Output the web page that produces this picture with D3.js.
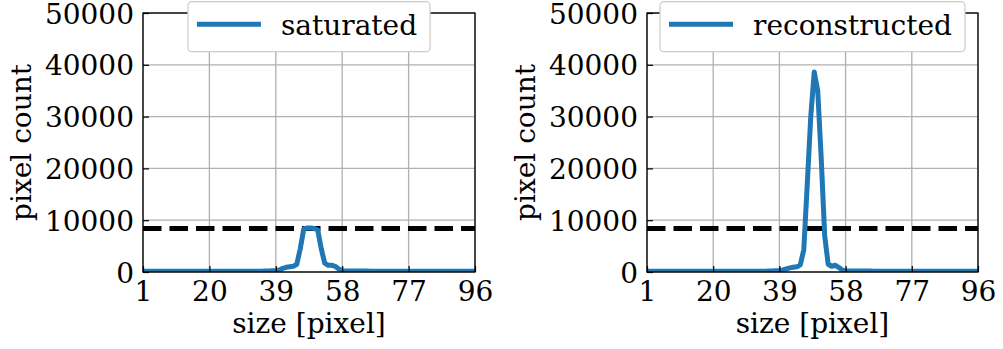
<!DOCTYPE html>
<html>
<head>
<meta charset="utf-8">
<script src="https://cdn.jsdelivr.net/npm/d3@7"></script>
<style>
  html, body { margin: 0; padding: 0; background: #fff; }
  svg { display: block; }
  text { font-family: "DejaVu Serif", serif; }
</style>
</head>
<body>
<svg id="chart" width="1003" height="349"></svg>
<script>
// ---------------- data ----------------
const sizes = d3.range(1, 97); // size bins 1..96
const saturated = [
  150,150,150,150,150,150,150,150,150,150,
  150,150,150,150,150,150,150,150,150,150,
  150,150,150,150,150,150,150,150,150,150,
  150,150,150,150,150,180,200,250,300,400,
  700,900,1000,1100,1500,4500,8300,8500,8500,8400,
  8100,4500,1700,1300,1300,1100,600,250,200,180,
  170,170,170,170,170,160,160,160,160,150,
  150,150,150,150,150,150,150,150,150,150,
  150,150,150,150,150,150,150,150,150,150,
  150,150,150,150,150,150
];
const reconstructed = [
  150,150,150,150,150,150,150,150,150,150,
  150,150,150,150,150,150,150,150,150,150,
  150,150,150,150,150,150,150,150,150,150,
  150,150,150,150,150,180,200,250,300,400,
  600,800,900,1000,1400,4300,17000,30000,38600,35000,
  22000,7000,1500,1100,1300,900,400,200,180,170,
  170,170,170,170,170,160,160,160,160,150,
  150,150,150,150,150,150,150,150,150,150,
  150,150,150,150,150,150,150,150,150,150,
  150,150,150,150,150,150
];
const threshold = 8400;
const xTicks = [1, 20, 39, 58, 77, 96];
const yTicks = [0, 10000, 20000, 30000, 40000, 50000];
const seriesNames = ["saturated", "reconstructed"];
const xLabel = "size [pixel]";
const yLabel = "pixel count";

// ---------------- layout ----------------
const svg = d3.select("#chart");
const panels = [
  { name: seriesNames[0], values: saturated,     x0: 143, x1: 475 },
  { name: seriesNames[1], values: reconstructed, x0: 647, x1: 978 }
];
const yTop = 13, yBot = 272;
const FS = 28;
const blue = "#1f77b4";

panels.forEach((p, i) => {
  const x = d3.scaleLinear().domain([1, 96]).range([p.x0, p.x1]);
  const y = d3.scaleLinear().domain([0, 50000]).range([yBot, yTop]);
  const g = svg.append("g");

  const clipId = "clip" + i;
  svg.append("clipPath").attr("id", clipId)
    .append("rect").attr("x", p.x0).attr("y", yTop)
    .attr("width", p.x1 - p.x0).attr("height", yBot - yTop);

  // grid
  g.append("g").selectAll("line").data(xTicks).join("line")
    .attr("x1", d => x(d)).attr("x2", d => x(d))
    .attr("y1", yTop).attr("y2", yBot)
    .attr("stroke", "#b0b0b0").attr("stroke-width", 1.3);
  g.append("g").selectAll("line").data(yTicks).join("line")
    .attr("x1", p.x0).attr("x2", p.x1)
    .attr("y1", d => y(d)).attr("y2", d => y(d))
    .attr("stroke", "#b0b0b0").attr("stroke-width", 1.3);

  // threshold dashed line
  g.append("line")
    .attr("clip-path", `url(#${clipId})`)
    .attr("x1", p.x0).attr("x2", p.x1)
    .attr("y1", y(threshold)).attr("y2", y(threshold))
    .attr("stroke", "#000").attr("stroke-width", 5)
    .attr("stroke-dasharray", "18.5,8");

  // series line
  const line = d3.line().x((d, k) => x(sizes[k])).y(d => y(d));
  g.append("path")
    .datum(p.values)
    .attr("clip-path", `url(#${clipId})`)
    .attr("d", line)
    .attr("fill", "none")
    .attr("stroke", blue)
    .attr("stroke-width", 5)
    .attr("stroke-linejoin", "round")
    .attr("stroke-linecap", "square");

  // axes
  const ax = g.append("g").attr("transform", `translate(0,${yBot})`)
    .call(d3.axisBottom(x).tickValues(xTicks).tickSize(-6).tickFormat(d3.format("d")));
  ax.select(".domain").remove();
  ax.selectAll(".tick line").attr("stroke", "#000").attr("stroke-width", 1.2);
  ax.selectAll(".tick text").attr("y", 29).attr("dy", 0)
    .attr("font-family", "DejaVu Serif").attr("font-size", FS).attr("fill", "#000");

  const ay = g.append("g").attr("transform", `translate(${p.x0},0)`)
    .call(d3.axisLeft(y).tickValues(yTicks).tickSize(-6).tickPadding(9).tickFormat(d3.format("d")));
  ay.select(".domain").remove();
  ay.selectAll(".tick line").attr("stroke", "#000").attr("stroke-width", 1.2);
  ay.selectAll(".tick text").attr("dy", "0.36em")
    .attr("font-family", "DejaVu Serif").attr("font-size", FS).attr("fill", "#000");

  // spines
  g.append("rect")
    .attr("x", p.x0).attr("y", yTop)
    .attr("width", p.x1 - p.x0).attr("height", yBot - yTop)
    .attr("fill", "none").attr("stroke", "#000").attr("stroke-width", 1.3);

  // axis labels
  g.append("text")
    .attr("x", (p.x0 + p.x1) / 2).attr("y", 333)
    .attr("text-anchor", "middle").attr("font-size", FS)
    .text(xLabel);
  g.append("text")
    .attr("transform", `translate(${p.x0 - 112},${(yTop + yBot) / 2}) rotate(-90)`)
    .attr("text-anchor", "middle").attr("font-size", FS)
    .text(yLabel);

  // legend
  const lg = g.append("g");
  const box = lg.append("rect");
  const lt = lg.append("text").attr("font-size", FS).attr("y", 35).text(p.name);
  const tw = lt.node().getComputedTextLength();
  const bw = 106 + tw;
  const bx = (p.x0 + p.x1) / 2 - bw / 2;
  box.attr("x", bx).attr("y", 1.7).attr("width", bw).attr("height", 50)
    .attr("rx", 4).attr("ry", 4)
    .attr("fill", "#fff").attr("stroke", "#cccccc").attr("stroke-width", 1.2);
  lg.append("line")
    .attr("x1", bx + 9).attr("x2", bx + 73)
    .attr("y1", 24.3).attr("y2", 24.3)
    .attr("stroke", blue).attr("stroke-width", 5);
  lt.attr("x", bx + 93).raise();
});
</script>
</body>
</html>
